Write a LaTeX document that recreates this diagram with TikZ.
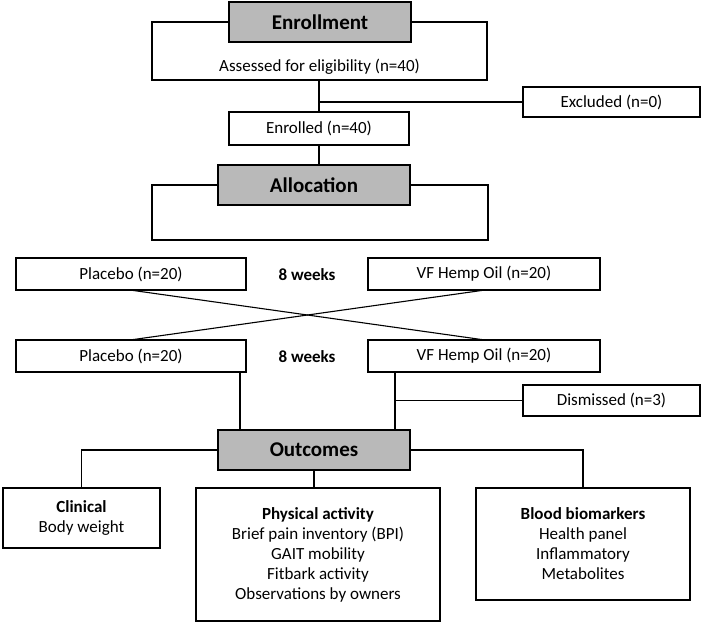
\documentclass[tikz,border=0pt]{standalone}
\usepackage{fontspec}
\setmainfont{Carlito}
\begin{document}
\begin{tikzpicture}[x=1pt,y=-1pt,
  box/.style={draw,line width=1.1pt,rectangle,inner sep=0pt,font=\fontsize{17}{20}\selectfont,align=center},
  head/.style={box,fill=gray!55,font=\fontsize{21}{24}\selectfont\bfseries},
  ln/.style={line width=1.1pt}]
\useasboundingbox (0,0) rectangle (703,625);
\node[box,minimum width=335,minimum height=58] (assess) at (319.5,51) {};
\node[font=\fontsize{17}{20}\selectfont] (assesst) at (319.5,67) {Assessed for eligibility (n=40)};
\node[head,minimum width=182,minimum height=40] (enr) at (320,22) {Enrollment};
\node[box,minimum width=177,minimum height=30] (excl) at (611.5,102) {Excluded (n=0)};
\node[box,minimum width=180,minimum height=33] (enrolled) at (319,128.5) {Enrolled (n=40)};
\node[box,minimum width=336,minimum height=55] (brk) at (320,212.5) {};
\node[head,minimum width=192,minimum height=40] (alloc) at (314,185) {Allocation};
\node[box,minimum width=230,minimum height=32] (p1) at (131,274) {Placebo (n=20)};
\node[box,minimum width=232,minimum height=32] (v1) at (484,274) {VF Hemp Oil (n=20)};
\node[font=\fontsize{17}{20}\selectfont\bfseries] (w1) at (307,275) {8 weeks};
\node[box,minimum width=230,minimum height=32] (p2) at (131,356) {Placebo (n=20)};
\node[box,minimum width=232,minimum height=32] (v2) at (484,356) {VF Hemp Oil (n=20)};
\node[font=\fontsize{17}{20}\selectfont\bfseries] (w2) at (307,357) {8 weeks};
\node[box,minimum width=177,minimum height=31] (dism) at (611.5,400.5) {Dismissed (n=3)};
\node[head,minimum width=192,minimum height=40] (out) at (314,450) {Outcomes};
\node[box,minimum width=157,minimum height=60] (clin) at (81.5,518) {\textbf{Clinical}\\Body weight};
\node[box,minimum width=244,minimum height=133] (phys) at (318,554.5) {\textbf{Physical activity}\\Brief pain inventory (BPI)\\GAIT mobility\\Fitbark activity\\Observations by owners};
\node[box,minimum width=214,minimum height=112] (blood) at (583,544) {\textbf{Blood biomarkers}\\Health panel\\Inflammatory\\Metabolites};
\coordinate (j1) at (320,102);
\draw[ln] (assess.south -| enrolled.north) -- (enrolled.north);
\draw[ln] (j1) -- (excl.west);
\draw[ln] (enrolled.south) -- (enrolled.south |- alloc.north);
\draw[ln] (130,290) -- (485,340);
\draw[ln] (485,290) -- (130,340);
\draw[ln] (240,372) -- (240,430);
\draw[ln] (395,372) -- (395,430);
\draw[ln] (395,400.5) -- (dism.west);
\draw[ln] (out.west) -| (clin.north);
\draw[ln] (out.east) -| (blood.north);
\draw[ln] (out.south) -- (out.south |- phys.north);
\end{tikzpicture}
\end{document}
